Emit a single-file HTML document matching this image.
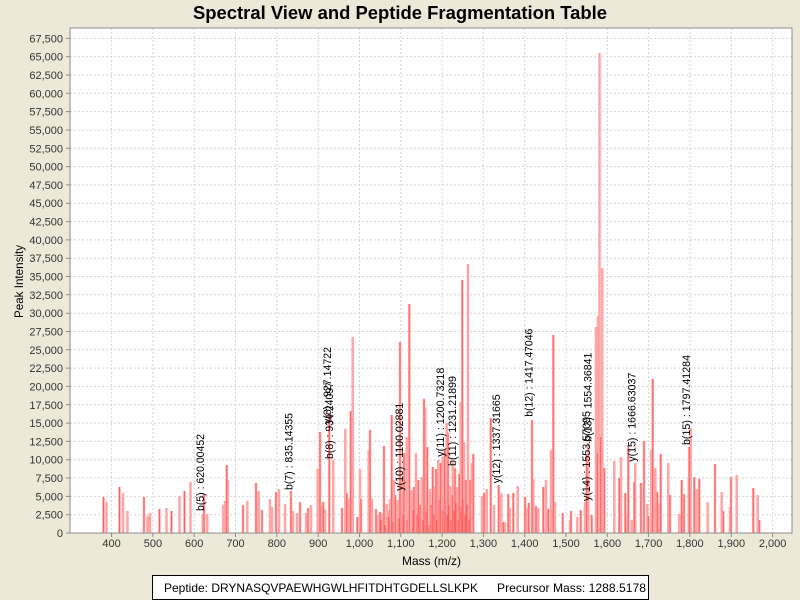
<!DOCTYPE html>
<html><head><meta charset="utf-8"><style>
html,body{margin:0;padding:0;background:#ECE9D8;}
svg{display:block;font-family:"Liberation Sans",sans-serif;}
</style></head><body>
<svg width="800" height="600" viewBox="0 0 800 600" xmlns="http://www.w3.org/2000/svg">
<rect x="0" y="0" width="800" height="600" fill="#ECE9D8"/>
<text x="193" y="19" font-size="18" font-weight="bold" textLength="414" lengthAdjust="spacingAndGlyphs" fill="#000">Spectral View and Peptide Fragmentation Table</text>
<rect x="70" y="28" width="722" height="505" fill="#fff"/>
<g stroke="#D4D4D4" stroke-width="1" stroke-dasharray="2,2" fill="none">
<path d="M111.6 28V533M152.9 28V533M194.2 28V533M235.5 28V533M276.8 28V533M318.2 28V533M359.5 28V533M400.8 28V533M442.1 28V533M483.4 28V533M524.7 28V533M566 28V533M607.3 28V533M648.6 28V533M689.9 28V533M731.3 28V533M772.6 28V533"/>
<path d="M70 514.7H792M70 496.4H792M70 478H792M70 459.7H792M70 441.4H792M70 423.1H792M70 404.8H792M70 386.4H792M70 368.1H792M70 349.8H792M70 331.5H792M70 313.2H792M70 294.8H792M70 276.5H792M70 258.2H792M70 239.9H792M70 221.6H792M70 203.2H792M70 184.9H792M70 166.6H792M70 148.3H792M70 130H792M70 111.6H792M70 93.3H792M70 75H792M70 56.7H792M70 38.4H792"/>
</g>
<path fill="none" stroke="#FFA5A5" stroke-width="2.5" d="M103.5 533V497M106.5 533V502M119.5 533V487M123 533V493M127.5 533V511M144 533V497M147.5 533V516M150 533V513M159.5 533V509M166.5 533V508M171.5 533V511M179.5 533V496M184.5 533V491M190.5 533V482M202.7 533V514M204 533V494M207.3 533V514M223.3 533V505M225 533V501M226.7 533V465M227.7 533V480M243 533V505M247.3 533V501M256 533V483M256.7 533V501M258.7 533V491M262 533V510M270 533V499M272 533V507M276 533V492M279 533V489M285 533V504M291 533V491M293 533V511M297 533V513M300 533V502M306 533V513M308 533V508M311 533V505M317.7 533V469M320 533V432M321.7 533V505M323.3 533V502M325 533V509M329.3 533V413M333.3 533V460M342 533V508M345.3 533V429M346.7 533V493M348.7 533V498M350.7 533V411M352.7 533V337M357.3 533V517M360 533V469M361 533V499M368.7 533V450M370 533V430M372 533V499M376 533V509M377.3 533V515M380 533V512M382.7 533V513M384 533V446M386.7 533V504M388.3 533V517M390 533V499M391.7 533V415M394 533V480M395.3 533V495M397.7 533V500M400 533V342M402 533V480M404 533V453M406.7 533V437M409.3 533V304M411.7 533V490M414 533V487M416 533V453M418.3 533V480M421.7 533V477M424 533V399M425.3 533V407M427.3 533V447M430 533V489M432.7 533V467M435 533V487M436 533V469M438.3 533V460M440.7 533V463M442.7 533V457M444.7 533V449M446.7 533V423M448 533V433M450 533V486M452.3 533V495M452.7 533V462M455 533V468M457.3 533V487M459.3 533V474M460.7 533V402M462.3 533V280M464 533V442M466 533V480M468 533V264M470 533V480M471.7 533V463M473.3 533V454M482 533V496M484 533V493M486.7 533V489M490.7 533V418M494 533V505M498.7 533V485M501.3 533V493M503.3 533V522M505 533V522M508.3 533V494M510 533V508M513.3 533V493M517.7 533V486M525 533V497M526.7 533V508M528.7 533V503M532 533V420M533.3 533V479M536 533V506M538.3 533V508M543.3 533V487M546 533V480M548.3 533V509M551 533V450M553.3 533V335M555 533V502M562.7 533V513M570 533V520M571 533V511M577.3 533V517M580.7 533V510M585 533V502M586.7 533V454M588.3 533V443M591.7 533V515M596 533V327M597.3 533V453M598 533V316M599.5 533V53M600.7 533V437M602.3 533V268M604.3 533V468M614.3 533V461M619.3 533V478M621 533V457M625.3 533V493M627.7 533V515M628.3 533V445M631.7 533V520M634.3 533V482M635.3 533V463M641 533V483M644 533V441M647.3 533V504M648.3 533V516M651.3 533V450M652.7 533V379M655.3 533V468M657.3 533V492M658.7 533V503M660.7 533V454M668.3 533V463M670 533V495M679.3 533V514M681.7 533V480M683.3 533V504M684 533V494M688.7 533V477M689.3 533V447M690.7 533V428M694.3 533V477M696.7 533V489M699.3 533V479M707.7 533V502M715 533V464M721.7 533V492M723.3 533V511M730 533V507M731 533V477M736.7 533V475M753.3 533V488M757.7 533V495M759.3 533V520"/>
<path fill="none" stroke="#FF5E5E" stroke-width="1" d="M103.5 533V497M119.5 533V487M144 533V497M159.5 533V509M171.5 533V511M184.5 533V491M204 533V494M226.7 533V465M243 533V505M256 533V483M262 533V510M276 533V492M291 533V491M300 533V502M308 533V508M320 533V432M323.3 533V502M329.3 533V413M342 533V508M346.7 533V493M350.7 533V411M357.3 533V517M361 533V499M370 533V430M376 533V509M380 533V512M384 533V446M388.3 533V517M391.7 533V415M395.3 533V495M400 533V342M404 533V453M409.3 533V304M414 533V487M418.3 533V480M424 533V399M427.3 533V447M432.7 533V467M436 533V469M440.7 533V463M444.7 533V449M448 533V433M452.3 533V495M455 533V468M459.3 533V474M462.3 533V280M466 533V480M470 533V480M473.3 533V454M484 533V493M490.7 533V418M498.7 533V485M503.3 533V522M508.3 533V494M513.3 533V493M525 533V497M528.7 533V503M532 533V420M536 533V506M543.3 533V487M548.3 533V509M553.3 533V335M562.7 533V513M571 533V511M580.7 533V510M586.7 533V454M591.7 533V515M597.3 533V453M600.7 533V437M604.3 533V468M619.3 533V478M625.3 533V493M628.3 533V445M634.3 533V482M641 533V483M644 533V441M648.3 533V516M652.7 533V379M657.3 533V492M660.7 533V454M670 533V495M681.7 533V480M684 533V494M689.3 533V447M694.3 533V477M699.3 533V479M715 533V464M723.3 533V511M731 533V477M753.3 533V488M759.3 533V520M381 533V520M385 533V525M389 533V510M393 533V522M399 533V518M403 533V515M407 533V520M413 533V510M417 533V515M420 533V505M423 533V520M426 533V512M429 533V525M431 533V505M434 533V515M437 533V520M439 533V500M443 533V510M445 533V500M447 533V515M449 533V505M451 533V520M454 533V510M456 533V503M458 533V520M461 533V507M463 533V500M465 533V515M467 533V505M469 533V520"/>
<rect x="70" y="28" width="722" height="505" fill="none" stroke="#8C8C8C" stroke-width="1"/>
<g stroke="#8C8C8C" stroke-width="1">
<path d="M66 533H70M66 514.7H70M66 496.4H70M66 478H70M66 459.7H70M66 441.4H70M66 423.1H70M66 404.8H70M66 386.4H70M66 368.1H70M66 349.8H70M66 331.5H70M66 313.2H70M66 294.8H70M66 276.5H70M66 258.2H70M66 239.9H70M66 221.6H70M66 203.2H70M66 184.9H70M66 166.6H70M66 148.3H70M66 130H70M66 111.6H70M66 93.3H70M66 75H70M66 56.7H70M66 38.4H70"/>
<path d="M111.6 533V537M152.9 533V537M194.2 533V537M235.5 533V537M276.8 533V537M318.2 533V537M359.5 533V537M400.8 533V537M442.1 533V537M483.4 533V537M524.7 533V537M566 533V537M607.3 533V537M648.6 533V537M689.9 533V537M731.3 533V537M772.6 533V537"/>
</g>
<g font-size="11" fill="#333" text-anchor="end">
<text x="63" y="537">0</text><text x="63" y="518.7">2,500</text><text x="63" y="500.4">5,000</text><text x="63" y="482">7,500</text><text x="63" y="463.7">10,000</text><text x="63" y="445.4">12,500</text><text x="63" y="427.1">15,000</text><text x="63" y="408.8">17,500</text><text x="63" y="390.4">20,000</text><text x="63" y="372.1">22,500</text><text x="63" y="353.8">25,000</text><text x="63" y="335.5">27,500</text><text x="63" y="317.2">30,000</text><text x="63" y="298.8">32,500</text><text x="63" y="280.5">35,000</text><text x="63" y="262.2">37,500</text><text x="63" y="243.9">40,000</text><text x="63" y="225.6">42,500</text><text x="63" y="207.2">45,000</text><text x="63" y="188.9">47,500</text><text x="63" y="170.6">50,000</text><text x="63" y="152.3">52,500</text><text x="63" y="134">55,000</text><text x="63" y="115.6">57,500</text><text x="63" y="97.3">60,000</text><text x="63" y="79">62,500</text><text x="63" y="60.7">65,000</text><text x="63" y="42.4">67,500</text>
</g>
<g font-size="11" fill="#333" text-anchor="middle">
<text x="111.6" y="547">400</text><text x="152.9" y="547">500</text><text x="194.2" y="547">600</text><text x="235.5" y="547">700</text><text x="276.8" y="547">800</text><text x="318.2" y="547">900</text><text x="359.5" y="547">1,000</text><text x="400.8" y="547">1,100</text><text x="442.1" y="547">1,200</text><text x="483.4" y="547">1,300</text><text x="524.7" y="547">1,400</text><text x="566" y="547">1,500</text><text x="607.3" y="547">1,600</text><text x="648.6" y="547">1,700</text><text x="689.9" y="547">1,800</text><text x="731.3" y="547">1,900</text><text x="772.6" y="547">2,000</text>
</g>
<text x="402" y="565" font-size="12" fill="#000" textLength="59" lengthAdjust="spacingAndGlyphs">Mass (m/z)</text>
<text transform="translate(23,318) rotate(-90)" font-size="12" fill="#000" textLength="73" lengthAdjust="spacingAndGlyphs">Peak Intensity</text>
<g font-size="11" fill="#000">
<text transform="translate(204,511) rotate(-90)" textLength="77" lengthAdjust="spacingAndGlyphs">b(5) : 620.00452</text>
<text transform="translate(292.5,490) rotate(-90)" textLength="77" lengthAdjust="spacingAndGlyphs">b(7) : 835.14355</text>
<text transform="translate(333,459) rotate(-90)" textLength="77" lengthAdjust="spacingAndGlyphs">b(8) : 934.24097</text>
<text transform="translate(331,424) rotate(-90)" textLength="77" lengthAdjust="spacingAndGlyphs">y(8) : 927.14722</text>
<text transform="translate(403,490.7) rotate(-90)" textLength="88" lengthAdjust="spacingAndGlyphs">y(10) : 1100.02881</text>
<text transform="translate(444,456.7) rotate(-90)" textLength="89" lengthAdjust="spacingAndGlyphs">y(11) : 1200.73218</text>
<text transform="translate(456,466) rotate(-90)" textLength="90" lengthAdjust="spacingAndGlyphs">b(11) : 1231.21899</text>
<text transform="translate(500,483.3) rotate(-90)" textLength="89" lengthAdjust="spacingAndGlyphs">y(12) : 1337.31665</text>
<text transform="translate(532.5,416.7) rotate(-90)" textLength="88" lengthAdjust="spacingAndGlyphs">b(12) : 1417.47046</text>
<text transform="translate(590,501) rotate(-90)" textLength="90" lengthAdjust="spacingAndGlyphs">y(14) : 1553.57095</text>
<text transform="translate(591.5,441.7) rotate(-90)" textLength="89" lengthAdjust="spacingAndGlyphs">b(13) : 1554.36841</text>
<text transform="translate(635.5,461.7) rotate(-90)" textLength="89" lengthAdjust="spacingAndGlyphs">y(15) : 1666.63037</text>
<text transform="translate(690,445) rotate(-90)" textLength="90" lengthAdjust="spacingAndGlyphs">b(15) : 1797.41284</text>
</g>
<rect x="152.5" y="575.5" width="496" height="24" fill="#fff" stroke="#000" stroke-width="1"/>
<text x="164" y="592" font-size="12" fill="#000" textLength="314" lengthAdjust="spacingAndGlyphs">Peptide: DRYNASQVPAEWHGWLHFITDHTGDELLSLKPK</text>
<text x="497" y="592" font-size="12" fill="#000" textLength="149" lengthAdjust="spacingAndGlyphs">Precursor Mass: 1288.5178</text>
</svg>
</body></html>
